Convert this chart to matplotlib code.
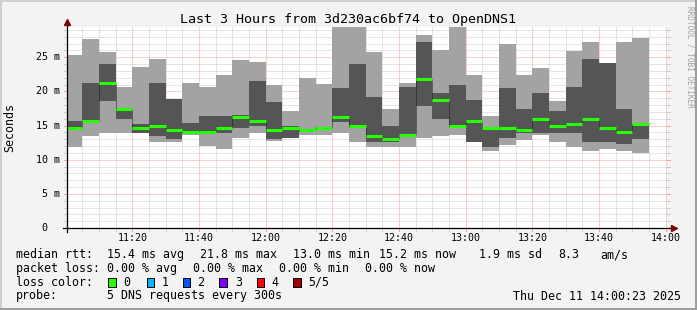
import numpy as np
import matplotlib.pyplot as plt
from matplotlib.patches import Rectangle

# smokeping rtt per 5 minute step (ms), 5 pings sorted
ping_max = [25.3, 27.6, 25.7, 20.6, 23.5, 24.7, 18.9, 21.3, 20.6, 22.4, 24.6, 24.3,
            21.0, 17.2, 22.0, 21.1, 29.5, 29.5, 25.7, 17.4, 21.3, 28.2, 26.0, 29.5,
            22.4, 16.4, 26.9, 22.4, 23.4, 18.6, 25.9, 27.3, 24.2, 27.3, 27.8]
ping_p4 = [15.6, 21.3, 24.0, 17.5, 15.2, 21.2, 18.9, 15.4, 16.4, 16.4, 16.6, 21.5,
           18.4, 14.9, 14.5, 14.8, 20.5, 24.0, 19.2, 14.9, 20.6, 27.2, 19.8, 21.0,
           18.8, 14.8, 20.5, 17.4, 19.8, 17.1, 20.6, 24.7, 24.2, 17.4, 15.2]
median = [14.6, 15.7, 21.3, 17.4, 14.7, 14.9, 14.4, 14.0, 14.0, 14.7, 16.3, 15.7,
          14.4, 14.6, 14.3, 14.7, 16.2, 14.9, 13.4, 13.0, 13.6, 21.8, 18.7, 14.9,
          15.7, 14.7, 14.7, 14.4, 15.9, 15.0, 15.3, 15.9, 14.7, 14.0, 15.2]
ping_p2 = [14.4, 15.5, 18.6, 15.9, 13.9, 13.4, 13.0, 13.9, 13.9, 13.9, 14.7, 14.9,
           13.0, 13.2, 14.0, 14.5, 15.5, 14.7, 12.6, 12.6, 13.5, 17.9, 16.0, 14.7,
           12.6, 11.9, 13.2, 13.9, 13.9, 13.9, 13.9, 12.6, 12.6, 12.3, 13.1]
ping_min = [11.9, 13.4, 13.9, 13.9, 13.9, 12.6, 12.6, 13.6, 12.0, 11.6, 13.2, 13.9,
            12.8, 13.2, 13.6, 13.6, 13.9, 12.6, 11.9, 11.9, 11.9, 13.2, 13.4, 13.6,
            12.6, 11.3, 12.1, 12.9, 13.6, 12.6, 11.9, 11.3, 11.6, 11.3, 11.0]

step_min = 5            # minutes per step, first step at 11:00
start_off = 23 / 60     # graph starts 11:00:23
x_ticks = [20, 40, 60, 80, 100, 120, 140, 160, 180]
x_labels = ['11:20', '11:40', '12:00', '12:20', '12:40', '13:00', '13:20', '13:40', '14:00']
y_ticks = [0, 5, 10, 15, 20, 25]
y_labels = ['0', '5 m', '10 m', '15 m', '20 m', '25 m']

title = 'Last 3 Hours from 3d230ac6bf74 to OpenDNS1'
rtt_stats = ['15.4 ms avg', '21.8 ms max', '13.0 ms min', '15.2 ms now', '1.9 ms sd', '8.3', 'am/s']
loss_stats = ['0.00 % avg', '0.00 % max', '0.00 % min', '0.00 % now']
loss_names = ['0', '1', '2', '3', '4', '5/5']
loss_colors = ['#26ff00', '#00b8ff', '#0059ff', '#7e00ff', '#ff0000', '#a10000']
probe_text = '5 DNS requests every 300s'
stamp = 'Thu Dec 11 14:00:23 2025'

W, H = 697, 310
MONO = 'DejaVu Sans Mono'
LIGHT, DARK = '#a3a3a3', '#555555'
MINOR, MAJOR = '#cccccc', '#f2a0a0'


def fx(px):
    return px / W


def fy(py):
    return 1 - py / H


fig = plt.figure(figsize=(W / 100, H / 100), dpi=100, facecolor='#f3f3f3')
# 3d frame like rrdtool
fig.patches.append(Rectangle((0, 0), fx(2), 1, transform=fig.transFigure, color='#cfcfcf', lw=0))
fig.patches.append(Rectangle((0, fy(2)), 1, 2 / H, transform=fig.transFigure, color='#cfcfcf', lw=0))
fig.patches.append(Rectangle((0, 0), 1, 2 / H, transform=fig.transFigure, color='#9e9e9e', lw=0))
fig.patches.append(Rectangle((fx(W - 2), 0), 2 / W, 1, transform=fig.transFigure, color='#9e9e9e', lw=0))

x0, x1, ytop, ybot = 67, 667, 27, 228
ax = fig.add_axes([fx(x0), fy(ybot), (x1 - x0) / W, (ybot - ytop) / H])
ax.set_facecolor('white')
ax.set_xlim(start_off, 180 + start_off)
ax.set_ylim(0, (ybot - ytop) / 6.83)
for s in ax.spines.values():
    s.set_visible(False)
ax.set_xticks([])
ax.set_yticks([])

dotted = (0, (1, 1))
px_x = 1 / (x1 - x0)
px_y = 1 / (ybot - ytop)

# horizontal grid
for v in range(1, 30):
    if v > ax.get_ylim()[1]:
        break
    c = MAJOR if v % 5 == 0 else MINOR
    ax.axhline(v, color=c, lw=0.72, ls=dotted, zorder=0)
    yf = v / ax.get_ylim()[1]
    ax.plot([-3 * px_x, 0], [yf, yf], color=c, lw=0.72, transform=ax.transAxes, clip_on=False)
    ax.plot([1, 1 + 3 * px_x], [yf, yf], color=c, lw=0.72, transform=ax.transAxes, clip_on=False)

# vertical grid
for m in range(5, 181, 5):
    c = MAJOR if m % 20 == 0 else MINOR
    ax.axvline(m, color=c, lw=0.72, ls=dotted, zorder=0)
    ax.annotate('', xy=(m, 0), xycoords=('data', 'axes fraction'))
    ax.plot([m, m], [-3 * px_y * ax.get_ylim()[1], 0], color=c, lw=0.72, clip_on=False)

n = len(median)
edges = np.arange(n + 1) * step_min
ax.stairs(ping_max, edges, baseline=ping_min, fill=True, color=LIGHT, lw=0, zorder=2)
ax.stairs(ping_p4, edges, baseline=ping_p2, fill=True, color=DARK, lw=0, zorder=3)
for i in range(1, n):
    lo, hi = sorted([median[i - 1], median[i]])
    ax.vlines(edges[i], lo, hi, color='#1a1a1a', lw=0.72, ls=dotted, zorder=4)
ax.hlines(median, edges[:-1], edges[1:], color=loss_colors[0], lw=2.2, zorder=5,
          capstyle='butt')

# axes lines with arrows
ax.plot([-4 * px_x, 1 + 4 * px_x], [0, 0], color='black', lw=0.9, transform=ax.transAxes,
        clip_on=False, zorder=6)
ax.plot([0, 0], [-4 * px_y, 1 + 2 * px_y], color='black', lw=0.9, transform=ax.transAxes,
        clip_on=False, zorder=6)
ax.plot([1 + 7 * px_x], [0], marker='>', ms=5, color='#800000', transform=ax.transAxes,
        clip_on=False, zorder=7)
ax.plot([0], [1 + 5 * px_y], marker='^', ms=5, color='#800000', transform=ax.transAxes,
        clip_on=False, zorder=7)

# tick labels
for m, lab in zip(x_ticks, x_labels):
    ax.annotate(lab, xy=(m, 0), xycoords=('data', 'axes fraction'), xytext=(0, -7.4),
                textcoords='offset points', ha='center', va='center', fontsize=7.2, family=MONO)
for v, lab in zip(y_ticks, y_labels):
    off = -20 if lab == '0' else -7
    ax.annotate(lab, xy=(0, v), xycoords=('axes fraction', 'data'), xytext=(off * 0.72, 0),
                textcoords='offset points', ha='right', va='center', fontsize=7.2, family=MONO)

fig.text(fx(W / 2), fy(19), title, ha='center', va='center', fontsize=9.6, family=MONO)
fig.text(fx(10), fy(127), 'Seconds', rotation=90, ha='center', va='center', fontsize=8.4,
         family=MONO)
fig.text(fx(690), fy(57), 'RRDTOOL / TOBI OETIKER', rotation=-90, ha='center', va='center',
         fontsize=5.6, family=MONO, color='#a0a0a0')

# legend
fs = 8.4
rows = [254.5, 268.3, 282, 296]
fig.text(fx(16), fy(rows[0]), 'median rtt:', va='center', fontsize=fs, family=MONO)
for txt, xp in zip(rtt_stats, [107.3, 200, 293.3, 379.3, 479.3, 558.3, 600]):
    fig.text(fx(xp), fy(rows[0]), txt, va='center', fontsize=fs, family=MONO)
fig.text(fx(16), fy(rows[1]), 'packet loss:', va='center', fontsize=fs, family=MONO)
for txt, xp in zip(loss_stats, [107.3, 193.3, 279.3, 365]):
    fig.text(fx(xp), fy(rows[1]), txt, va='center', fontsize=fs, family=MONO)
fig.text(fx(16), fy(rows[2]), 'loss color:', va='center', fontsize=fs, family=MONO)
for name, col, bx, tx in zip(loss_names, loss_colors,
                             [108.3, 146.7, 182.7, 219.3, 256.7, 293.3],
                             [123.3, 161.7, 197.3, 235, 271.7, 308.3]):
    fig.patches.append(Rectangle((fx(bx), fy(rows[2] + 4.5)), 7.5 / W, 9 / H,
                                 transform=fig.transFigure, facecolor=col,
                                 edgecolor='black', lw=0.72))
    fig.text(fx(tx), fy(rows[2]), name, va='center', fontsize=fs, family=MONO)
fig.text(fx(16), fy(rows[3]), 'probe:', va='center', fontsize=fs, family=MONO)
fig.text(fx(107.3), fy(rows[3]), probe_text, va='center', fontsize=fs, family=MONO)
fig.text(fx(681), fy(rows[3]), stamp, ha='right', va='center', fontsize=fs, family=MONO)

fig.savefig('out.png', dpi=100, facecolor=fig.get_facecolor())
